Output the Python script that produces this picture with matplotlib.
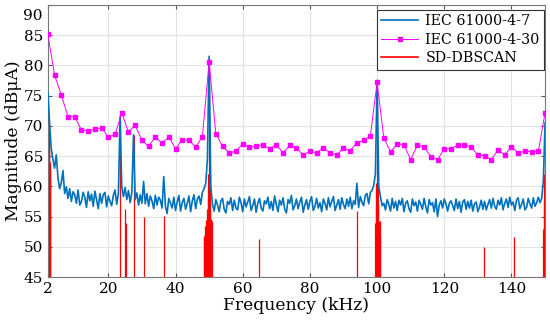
import matplotlib
matplotlib.use("Agg")
import matplotlib.pyplot as plt
import matplotlib.transforms as mtransforms
import numpy as np

plt.rcParams['font.family'] = ['DejaVu Serif']

# IEC 61000-4-7 spectrum, 0.5 kHz steps from 2 to 150 kHz
f_47 = np.arange(2.0, 150.01, 0.5)
mag_47 = [
    75.5, 70.5, 66.3, 64.5, 63.0, 65.2, 61.5, 59.6, 60.6, 62.6,
    58.8, 59.9, 58.0, 59.6, 57.5, 59.1, 58.6, 57.2, 59.4, 56.9,
    57.5, 59.0, 58.2, 56.5, 59.1, 57.6, 58.7, 56.7, 59.2, 57.8,
    56.3, 58.8, 57.2, 58.6, 59.0, 56.6, 58.4, 57.5, 56.8, 58.5,
    59.4, 57.0, 58.8, 71.5, 60.0, 58.3, 59.8, 57.8, 59.3, 57.3,
    59.0, 68.5, 57.8, 58.9, 56.9, 58.6, 57.2, 60.8, 57.1, 58.8,
    56.7, 58.4, 57.6, 56.3, 58.5, 56.9, 58.2, 57.7, 56.4, 61.6,
    56.7, 55.5, 58.0, 57.2, 56.4, 58.2, 56.0, 57.4, 58.5, 55.9,
    57.3, 58.0, 56.2, 57.2, 58.4, 55.8, 57.6, 58.6, 56.3, 57.9,
    58.4, 57.0, 59.0, 59.6, 60.5, 64.5, 81.5, 60.0, 57.0, 55.9,
    57.8, 56.9, 55.8, 57.6, 58.0, 56.2, 55.6, 57.5, 57.0, 58.1,
    56.0, 57.7, 56.4, 56.1, 58.2, 57.3, 55.8, 57.9, 56.6, 57.4,
    58.3, 56.0, 56.8, 57.9, 55.7, 57.2, 58.0, 56.4, 55.9, 57.6,
    57.1, 58.2, 56.3, 57.5, 56.0, 58.4, 57.0, 55.8, 57.7, 56.9,
    58.1, 56.2, 55.6, 57.8, 57.2, 58.5, 56.1, 56.8, 57.9, 56.3,
    57.4, 58.2, 55.7, 56.9, 57.8, 56.2, 57.5, 58.3, 56.0, 56.7,
    58.0, 56.4, 57.3, 55.8, 57.9, 57.2, 56.1, 58.1, 56.6, 57.5,
    58.3, 56.0, 56.9, 57.8, 56.2, 58.1, 57.0, 56.3, 57.9, 56.7,
    58.2, 56.3, 57.6, 57.0, 60.5, 56.5, 58.3, 57.4, 56.8, 58.5,
    58.8, 57.1, 59.0, 59.3, 60.2, 62.0, 77.5, 60.0, 58.3, 56.8,
    57.2, 56.1, 57.8, 57.0, 55.9, 58.0, 56.4, 57.5, 56.0, 57.7,
    56.9, 58.0, 55.8, 57.2, 57.6, 56.3, 55.7, 57.9, 56.8, 57.4,
    55.9, 57.7, 57.0, 56.2, 58.0, 56.6, 55.6, 57.8, 56.9, 57.3,
    55.8, 57.9, 55.0, 56.9, 57.6, 56.4, 57.9, 57.1, 55.9, 57.2,
    57.6, 56.8, 56.0, 57.9, 56.3, 57.5, 55.7, 57.4, 57.8, 56.2,
    57.5, 56.4, 57.7, 55.9, 57.1, 57.4, 55.8, 56.6, 57.7, 56.2,
    57.5, 56.1, 57.0, 57.8, 56.4, 58.0, 56.7, 56.2, 57.7, 56.9,
    58.1, 56.1, 57.2, 57.9, 56.5, 58.2, 56.9, 57.4, 56.0, 57.7,
    58.1, 56.3, 57.0, 57.9, 56.1, 56.5, 58.0, 57.1, 56.4, 58.1,
    56.7, 57.3, 58.2, 57.3, 58.0, 61.0, 70.5,
]

# IEC 61000-4-30, 2 kHz bands
f_430 = np.arange(2, 151, 2)
mag_430 = [
    85.1, 78.4, 75.1, 71.5, 71.5, 69.3, 69.2, 69.4, 69.7, 68.1,
    68.6, 72.1, 69.0, 70.1, 67.6, 66.6, 68.2, 67.1, 68.2, 66.2,
    67.7, 67.6, 66.5, 68.2, 80.5, 68.7, 66.6, 65.5, 65.8, 67.0,
    66.5, 66.6, 66.9, 66.2, 66.9, 65.5, 66.8, 66.3, 65.2, 65.8,
    65.5, 66.4, 65.5, 65.2, 66.3, 65.9, 67.2, 67.6, 68.3, 77.2,
    68.0, 65.7, 67.0, 66.9, 64.4, 66.8, 66.5, 64.9, 64.4, 66.2,
    66.2, 66.8, 66.8, 66.5, 65.2, 65.0, 64.4, 66.0, 65.2, 66.5,
    65.5, 65.8, 65.7, 65.8, 72.1,
]

# SD-DBSCAN components
f_sd = [2.05, 2.15, 2.25, 2.35, 2.45, 2.55, 2.65, 2.75,
        23.5, 24.9, 25.2, 27.5, 30.5, 36.5,
        48.4, 48.6, 48.8, 49.0, 49.2, 49.4, 49.6, 49.8, 50.0, 50.2, 50.4, 50.6, 50.8,
        64.9, 94.0,
        99.4, 99.6, 99.8, 100.0, 100.2, 100.4, 100.6, 100.8, 101.0,
        131.9, 140.8,
        149.4, 149.6, 149.8, 150.0]
mag_sd = [75.0, 73.0, 71.0, 69.0, 66.0, 64.0, 63.0, 62.5,
          71.5, 56.3, 54.0, 68.5, 54.9, 55.1,
          51.7, 51.8, 53.4, 53.5, 54.5, 56.2, 58.0, 62.0, 81.0, 62.0, 56.0, 54.6, 54.2,
          51.3, 55.9,
          54.0, 57.0, 60.6, 77.0, 60.6, 57.0, 54.2, 54.2, 52.0,
          50.0, 51.6,
          53.0, 57.3, 62.0, 70.0]

fig = plt.figure(figsize=(5.5, 3.24), dpi=100)
ax = fig.add_axes([0.087, 0.145, 0.904, 0.84])

ax.vlines(f_sd, 44, mag_sd, color='#ff0000', lw=0.9, zorder=2)
ax.plot(f_47, mag_47, color='#0072BD', lw=1.2, label='IEC 61000-4-7', zorder=3)
ax.plot(f_430, mag_430, color='#FF00FF', lw=0.7, marker='s', markersize=3.3,
        label='IEC 61000-4-30', zorder=4)
ax.plot([], [], color='#ff0000', lw=1.2, label='SD-DBSCAN')

ax.set_xlim(2, 150)
ax.set_ylim(45, 90)
ax.set_xticks([2, 20, 40, 60, 80, 100, 120, 140])
ax.set_yticks(range(45, 91, 5))
ax.grid(True, color='#e3e3e3', lw=0.8)
ax.set_axisbelow(True)
ax.tick_params(direction='in', top=True, right=True, labelsize=11,
               color='#555555', length=3)
for s in ax.spines.values():
    s.set_color('#777777')

# top y label sits a bit lower in the original
lab = ax.get_yticklabels()[-1]
lab.set_transform(lab.get_transform() +
                  mtransforms.ScaledTranslation(0, -10 / 100, fig.dpi_scale_trans))

ax.set_xlabel('Frequency (kHz)', fontsize=12.3, labelpad=1)
ax.set_ylabel('Magnitude (dBμA)', fontsize=12.3, labelpad=1)

leg = ax.legend(loc='upper right', bbox_to_anchor=(0.998, 0.982), borderaxespad=0,
                fontsize=10.3, fancybox=False, framealpha=1, edgecolor='#333333',
                handlelength=2.6, labelspacing=0.33, borderpad=0.3,
                handletextpad=0.5)
leg.get_frame().set_linewidth(0.8)

fig.savefig('out.png', dpi=100)
